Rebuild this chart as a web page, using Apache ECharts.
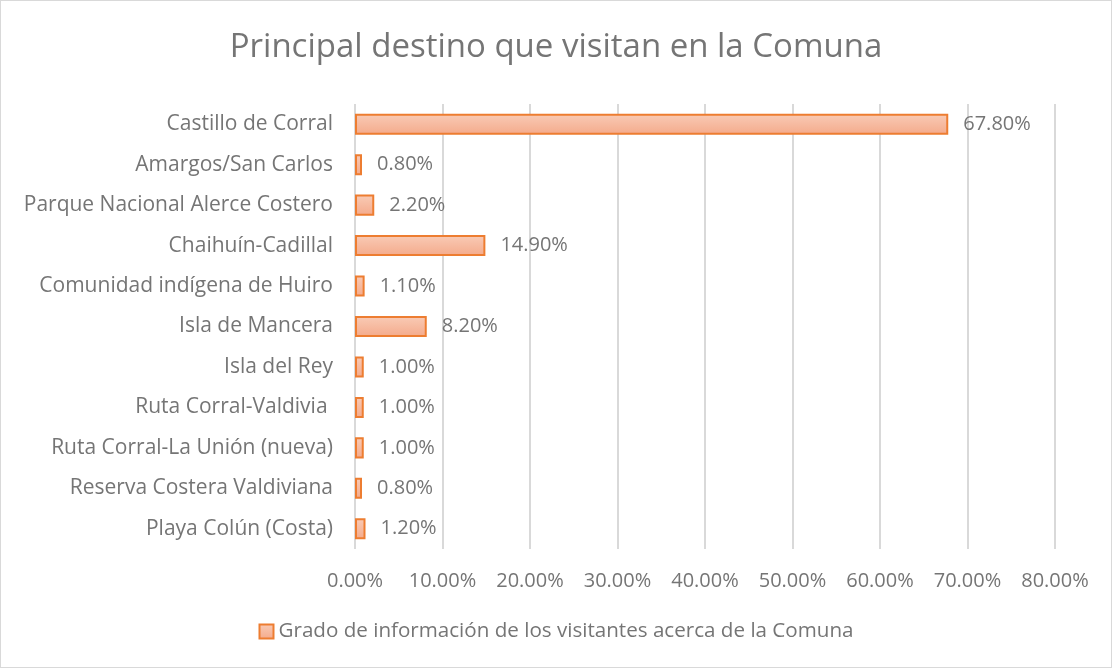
<!DOCTYPE html>
<html>
<head>
<meta charset="utf-8">
<script src="https://cdn.jsdelivr.net/npm/echarts@6/dist/echarts.min.js"></script>
<style>
	html, body { margin: 0; padding: 0; background: #fff; }
	#chart { width: 1110px; height: 666px; border: 1px solid #d9d9d9; }
</style>
</head>
<body>
<div id="chart"></div>
<script>
const categories = [
	'Castillo de Corral',
	'Amargos/San Carlos',
	'Parque Nacional Alerce Costero',
	'Chaihuín-Cadillal',
	'Comunidad indígena de Huiro',
	'Isla de Mancera',
	'Isla del Rey',
	'Ruta Corral-Valdivia ',
	'Ruta Corral-La Unión (nueva)',
	'Reserva Costera Valdiviana',
	'Playa Colún (Costa)'
];
const values = [67.8, 0.8, 2.2, 14.9, 1.1, 8.2, 1.0, 1.0, 1.0, 0.8, 1.2];
const seriesName = 'Grado de información de los visitantes acerca de la Comuna';
const titleText = 'Principal destino que visitan en la Comuna';

const font = '"Open Sans", sans-serif';
const grey = '#757575';
const barFill = new echarts.graphic.LinearGradient(0, 0, 0, 1, [
	{ offset: 0, color: '#f9cbb6' },
	{ offset: 1, color: '#f4aa8b' }
]);

const chart = echarts.init(document.getElementById('chart'));
chart.setOption({
	animation: false,
	textStyle: { fontFamily: font },
	title: {
		text: titleText,
		left: 'center',
		top: 25,
		textStyle: { fontFamily: font, fontSize: 33, fontWeight: 'normal', color: grey }
	},
	legend: {
		bottom: 20,
		left: 'center',
		icon: 'rect',
		itemWidth: 14,
		itemHeight: 14,
		itemGap: 5,
		textStyle: { fontFamily: font, fontSize: 20.6, color: grey },
		data: [{ name: seriesName, itemStyle: { color: barFill, borderColor: '#ed7d31', borderWidth: 2 } }]
	},
	grid: { left: 354, right: 56, top: 103, bottom: 118, containLabel: false },
	xAxis: {
		type: 'value',
		min: 0,
		max: 80,
		interval: 10,
		axisLine: { show: false },
		axisTick: { show: false },
		axisLabel: {
			margin: 22,
			fontSize: 20,
			color: grey,
			formatter: (v) => v.toFixed(2) + '%'
		},
		splitLine: { lineStyle: { color: '#d9d9d9', width: 2 } }
	},
	yAxis: {
		type: 'category',
		inverse: true,
		data: categories,
		axisLine: { show: false },
		axisTick: { show: false },
		axisLabel: { margin: 22, fontSize: 21, color: grey }
	},
	series: [{
		name: seriesName,
		type: 'bar',
		data: values,
		barWidth: '52%',
		itemStyle: { color: barFill, borderColor: '#ed7d31', borderWidth: 2 },
		label: {
			show: true,
			position: 'right',
			distance: 15,
			fontSize: 20,
			color: grey,
			formatter: (p) => p.value.toFixed(2) + '%'
		}
	}]
});
</script>
</body>
</html>
